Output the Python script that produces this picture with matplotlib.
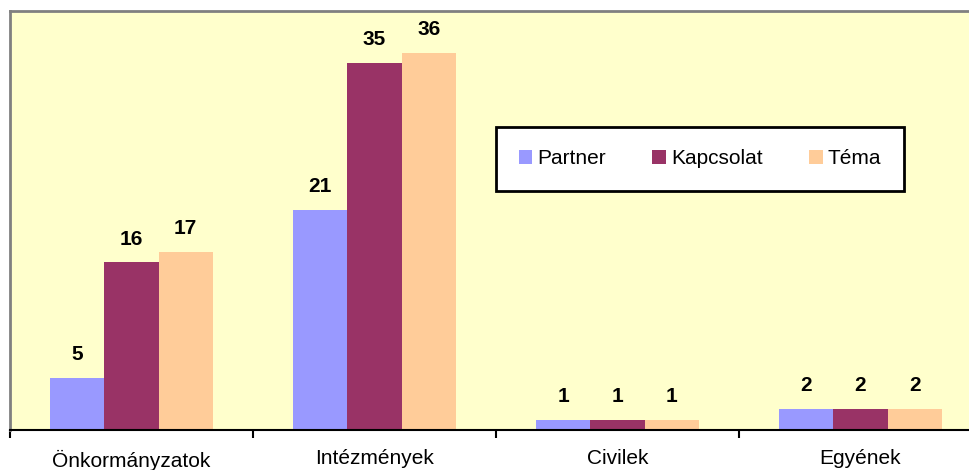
import numpy as np
import matplotlib
matplotlib.use('Agg')
import matplotlib.pyplot as plt

plt.rcParams['font.family'] = ['Liberation Sans', 'DejaVu Sans']

# Chart data
categories = ['Önkormányzatok', 'Intézmények', 'Civilek', 'Egyének']
series_names = ['Partner', 'Kapcsolat', 'Téma']
partner = [5, 21, 1, 2]
kapcsolat = [16, 35, 1, 2]
tema = [17, 36, 1, 2]
colors = ['#9999FF', '#993366', '#FFCC99']

fig = plt.figure(figsize=(9.7, 4.7), dpi=100)
fig.patch.set_facecolor('white')
ax = fig.add_axes([10 / 970, 40 / 470, 972 / 970, 419 / 470])
ax.set_facecolor('#FFFFCC')

x = np.arange(len(categories))
width = 0.223
for i, (vals, name, col) in enumerate(zip([partner, kapcsolat, tema], series_names, colors)):
    pos = x + (i - 1) * width
    ax.bar(pos, vals, width, color=col, label=name, linewidth=0, zorder=2)
    for px, v in zip(pos, vals):
        ax.annotate(str(v), (px, v), xytext=(0, 10), textcoords='offset points',
                    ha='center', va='bottom', fontsize=15, fontweight='bold')

ax.set_xlim(-0.5, 3.5)
ax.set_ylim(0, 40)

# tick marks between categories, labels centred
ax.set_xticks(np.arange(-0.5, 4, 1))
ax.set_xticklabels([])
ax.set_xticks(x, minor=True)
ax.set_xticklabels(categories, minor=True, fontsize=15)
ax.tick_params(axis='x', which='major', direction='out', length=6, width=1.5, color='black')
ax.tick_params(axis='x', which='minor', length=0, pad=14)
ax.set_yticks([])

ax.spines['bottom'].set_color('black')
ax.spines['bottom'].set_linewidth(1.5)
for s in ['top', 'left']:
    ax.spines[s].set_color('#808080')
    ax.spines[s].set_linewidth(2)
ax.spines['right'].set_visible(False)

leg = ax.legend(loc='center', bbox_to_anchor=(700 / 970, 1 - 159 / 470),
                bbox_transform=fig.transFigure, ncol=3, fontsize=15,
                frameon=True, fancybox=False, handlelength=0.67, handleheight=0.67,
                handletextpad=0.25, columnspacing=2.2, borderpad=1.1)
leg.get_frame().set_edgecolor('black')
leg.get_frame().set_linewidth(2)
leg.get_frame().set_facecolor('white')
leg.get_frame().set_alpha(1)

fig.savefig('out.png', dpi=100)
